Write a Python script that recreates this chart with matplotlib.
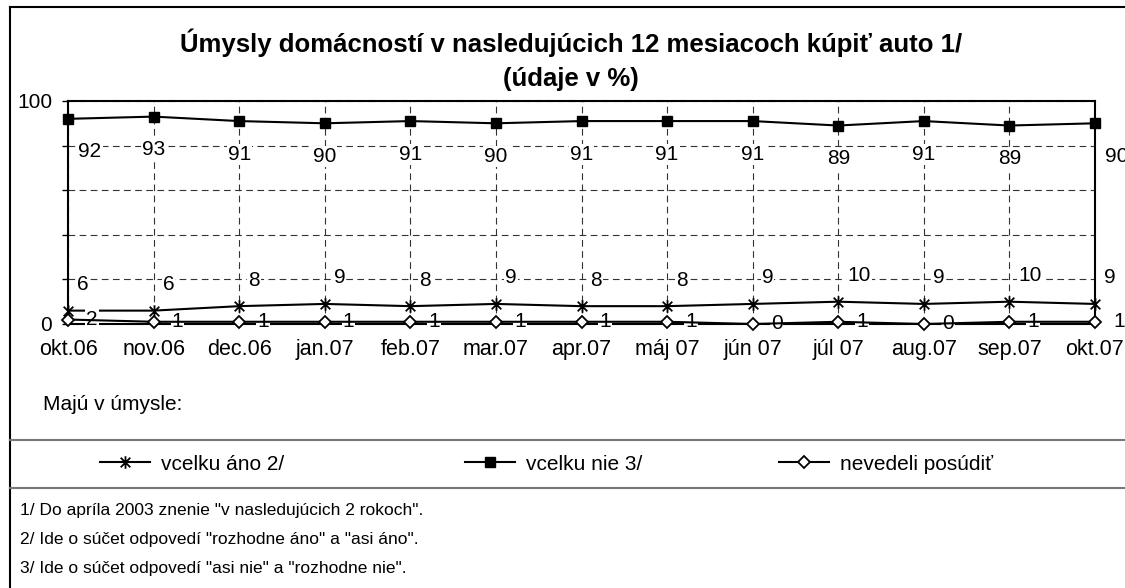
import matplotlib
matplotlib.use("Agg")
import matplotlib.pyplot as plt
from matplotlib.path import Path
from matplotlib.lines import Line2D

plt.rcParams['font.family'] = ['Liberation Sans', 'DejaVu Sans']

months = ["okt.06", "nov.06", "dec.06", "jan.07", "feb.07", "mar.07", "apr.07",
          "máj 07", "jún 07", "júl 07", "aug.07", "sep.07", "okt.07"]
ano = [6, 6, 8, 9, 8, 9, 8, 8, 9, 10, 9, 10, 9]
nie = [92, 93, 91, 90, 91, 90, 91, 91, 91, 89, 91, 89, 90]
nevedeli = [2, 1, 1, 1, 1, 1, 1, 1, 0, 1, 0, 1, 1]
series_names = ["vcelku áno 2/", "vcelku nie 3/", "nevedeli posúdiť"]
title = "Úmysly domácností v nasledujúcich 12 mesiacoch kúpiť auto 1/\n(údaje v %)"
footnotes = ['1/ Do apríla 2003 znenie "v nasledujúcich 2 rokoch".',
             '2/ Ide o súčet odpovedí "rozhodne áno" a "asi áno".',
             '3/ Ide o súčet odpovedí "asi nie" a "rozhodne nie".']

W, H = 1125, 588
fig = plt.figure(figsize=(W / 100, H / 100), dpi=100)

def fx(px):
    return px / W

def fy(py):
    return 1 - py / H

ax = fig.add_axes([fx(68), fy(324), fx(1095) - fx(68), fy(101) - fy(324)])
x = list(range(len(months)))

star = Path([(-1, -1), (1, 1), (-1, 1), (1, -1), (0, -1.3), (0, 1.3)],
            [Path.MOVETO, Path.LINETO, Path.MOVETO, Path.LINETO, Path.MOVETO, Path.LINETO])

ax.plot(x, ano, color='black', lw=1.5, marker=star, markersize=9, mew=1.3,
        label=series_names[0], clip_on=False, zorder=4)
ax.plot(x, nie, color='black', lw=1.5, marker='s', markersize=7.5, mfc='black',
        label=series_names[1], clip_on=False, zorder=4)
ax.plot(x, nevedeli, color='black', lw=1.5, marker='D', markersize=6.5, mfc='white',
        mew=1.3, label=series_names[2], clip_on=False, zorder=5)

ax.set_xlim(0, len(months) - 1)
ax.set_ylim(0, 100)
ax.set_yticks([0, 20, 40, 60, 80, 100])
ax.set_yticklabels(["0", "", "", "", "", "100"])
ax.set_xticks(x)
ax.set_xticklabels(months)
ax.tick_params(axis='y', length=4.5, width=1, pad=7, labelsize=15, direction='out')
ax.tick_params(axis='x', length=0, pad=11, labelsize=15.5)
for s in ax.spines.values():
    s.set_linewidth(1.5)
    s.set_color('black')
ax.grid(True, linestyle=(0, (6, 4)), color='#333333', lw=0.8)
ax.set_axisbelow(True)

bb = dict(boxstyle='square,pad=0.05', fc='white', ec='none')
for i, v in enumerate(nie):
    dx = 0
    if i == 0:
        dx = 22
    elif i == len(nie) - 1:
        dx = 22
    ax.annotate(str(v), (i, v), xytext=(dx, -33), textcoords='offset pixels',
                ha='center', va='center', fontsize=15, bbox=bb, zorder=3,
                annotation_clip=False)
for i, v in enumerate(ano):
    ax.annotate(str(v), (i, v), xytext=(9, 26), textcoords='offset pixels',
                ha='left', va='center', fontsize=15, bbox=bb, zorder=3,
                annotation_clip=False)
for i, v in enumerate(nevedeli):
    ax.annotate(str(v), (i, v), xytext=(18, 0), textcoords='offset pixels',
                ha='left', va='center', fontsize=15, bbox=bb, zorder=4.5,
                annotation_clip=False)

fig.text(fx(571), fy(59.5), title, ha='center', va='center', fontsize=18.5,
         fontweight='bold', linespacing=1.55)
fig.text(fx(43), fy(405), "Majú v úmysle:", ha='left', va='center', fontsize=15)

# frame lines
fig.add_artist(Line2D([fx(10), fx(10)], [fy(7), 0], color='black', lw=1.5))
fig.add_artist(Line2D([fx(10), 1], [fy(7), fy(7)], color='black', lw=1.5))
fig.add_artist(Line2D([fx(10), 1], [fy(440), fy(440)], color='#777777', lw=1.5))
fig.add_artist(Line2D([fx(10), 1], [fy(488), fy(488)], color='#777777', lw=1.5))

handles, labels = ax.get_legend_handles_labels()
leg_x = [100, 465, 779]
for h, l, lx in zip(handles, labels, leg_x):
    fig.legend([h], [l], loc='center left', bbox_to_anchor=(fx(lx), fy(464)),
               frameon=False, fontsize=15, handlelength=2.4, handletextpad=0.55,
               borderaxespad=0, borderpad=0)

for i, t in enumerate(footnotes):
    fig.text(fx(20), fy(511 + 28.5 * i), t, ha='left', va='center', fontsize=12.5)

fig.savefig("out.png", dpi=100)
